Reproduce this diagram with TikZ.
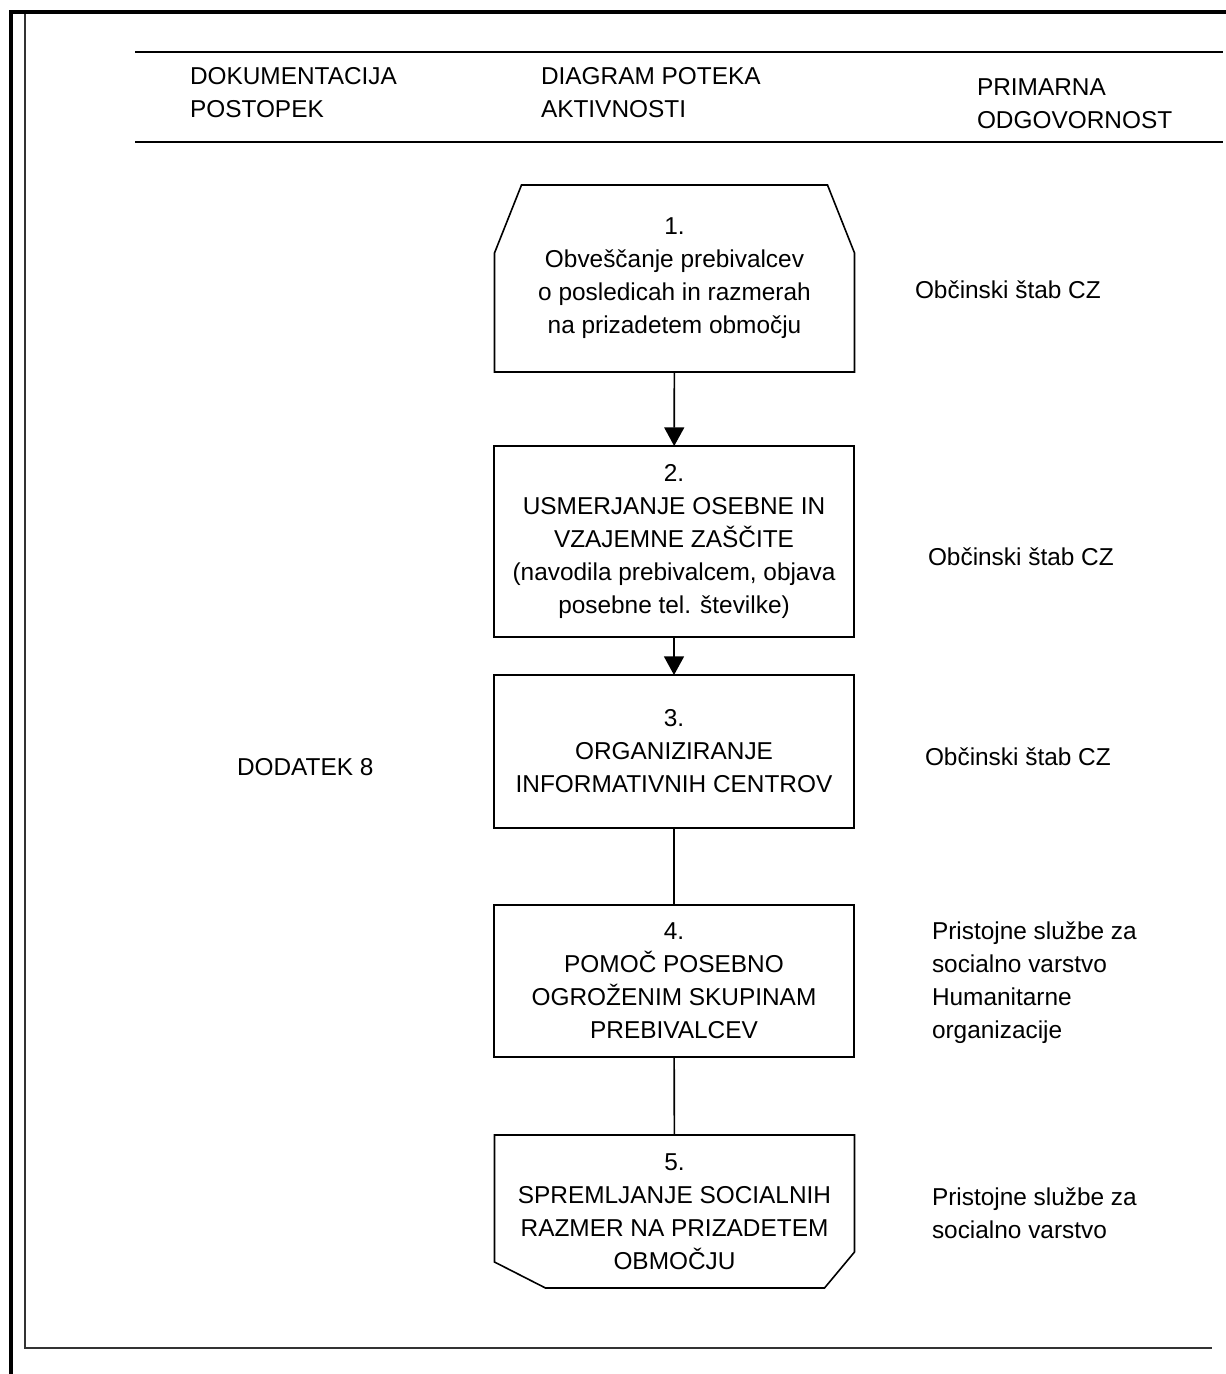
\documentclass[tikz,border=0pt]{standalone}
\usepackage{fontspec}
\setmainfont{Liberation Sans}
\usetikzlibrary{arrows.meta,calc}
\begin{document}
\begin{tikzpicture}[x=0.75pt,y=-0.75pt,
  every node/.style={inner sep=0pt,outer sep=0pt},
  txtfont/.style={font=\fontsize{18.3}{24.75}\selectfont},
  ltxt/.style={txtfont,align=left,anchor=west},
  boxnode/.style={txtfont,align=center,minimum width=270pt},
  boxline/.style={line width=1.2pt},
  conn/.style={line width=1.2pt},
  arr/.style={conn,-{Triangle[width=15pt,length=14pt]}}
]
\useasboundingbox (0,0) rectangle (1226,1374);
% frame
\coordinate (ftl) at (11,12);
\coordinate (fbl) at (11,1374);
\coordinate (ftr) at (1226,12);
\draw[line width=2.6pt] (fbl) -- (ftl) -- (ftr);
\coordinate (itl) at (25,14);
\coordinate (ibl) at (25,1348);
\coordinate (ibr) at (1212,1348);
\draw[line width=1.4pt,black!80] (itl) -- (ibl) -- (ibr);
% header lines
\coordinate (hl1a) at (135,52);
\coordinate (hl1b) at (1223,52);
\coordinate (hl2a) at (135,142);
\coordinate (hl2b) at (1223,142);
\draw[line width=1.2pt] (hl1a) -- (hl1b);
\draw[line width=1.2pt] (hl2a) -- (hl2b);
% header texts
\node[ltxt] (h1) at (190,92.5) {DOKUMENTACIJA\\POSTOPEK};
\node[ltxt] (h2) at (541,92.5) {DIAGRAM POTEKA\\AKTIVNOSTI};
\node[ltxt] (h3) at (977,104) {PRIMARNA\\ODGOVORNOST};
% boxes
\node[boxnode,minimum height=140.25pt] (b1) at (674.5,278.5)
  {1.\\Obveščanje prebivalcev\\o posledicah in razmerah\\na prizadetem območju};
\draw[boxline] (b1.south west) -- ($(b1.south west)+(0,-119)$)
  -- ($(b1.north west)+(27,0)$) -- ($(b1.north east)+(-27,0)$)
  -- ($(b1.south east)+(0,-119)$) -- (b1.south east) -- cycle;
\node[boxnode,draw,boxline,minimum height=143.25pt] (b2) at (674,541.5)
  {2.\\USMERJANJE OSEBNE IN\\VZAJEMNE ZAŠČITE\\(navodila prebivalcem, objava\\posebne tel. številke)};
\node[boxnode,draw,boxline,minimum height=114.75pt] (b3) at (674,751.5)
  {3.\\ORGANIZIRANJE\\INFORMATIVNIH CENTROV};
\node[boxnode,draw,boxline,minimum height=114pt] (b4) at (674,981)
  {4.\\POMOČ POSEBNO\\OGROŽENIM SKUPINAM\\PREBIVALCEV};
\node[boxnode,minimum height=114.75pt] (b5) at (674.5,1211.5)
  {5.\\SPREMLJANJE SOCIALNIH\\RAZMER NA PRIZADETEM\\OBMOČJU};
\draw[boxline] (b5.north west) -- ($(b5.south west)+(0,-26)$)
  -- ($(b5.south west)+(51,0)$) -- ($(b5.south east)+(-30,0)$)
  -- ($(b5.south east)+(0,-36)$) -- (b5.north east) -- cycle;
% connectors
\draw[arr] (b1) -- (b2);
\draw[arr] (b2) -- (b3);
\draw[conn] (b3) -- (b4);
\draw[conn] (b4) -- (b5);
% side labels
\node[ltxt] (dod) at (237,767) {DODATEK 8};
\node[ltxt] (r1) at (915,290) {Občinski štab CZ};
\node[ltxt] (r2) at (928,557) {Občinski štab CZ};
\node[ltxt] (r3) at (925,757) {Občinski štab CZ};
\node[ltxt] (r4) at (932,983) {Pristojne službe za\\socialno varstvo\\Humanitarne\\organizacije};
\node[ltxt] (r5) at (932,1213) {Pristojne službe za\\socialno varstvo};
\end{tikzpicture}
\end{document}
